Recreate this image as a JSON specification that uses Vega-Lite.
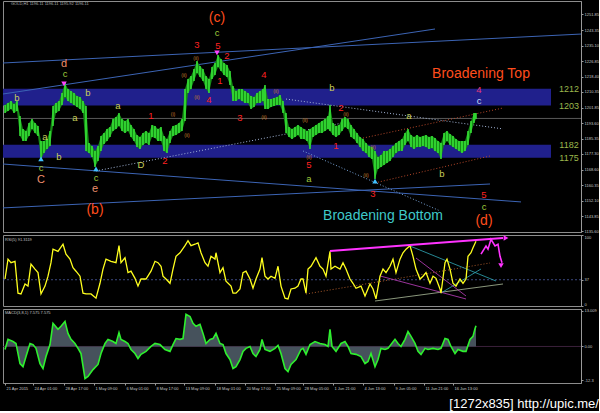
{
  "$schema": "https://vega.github.io/schema/vega-lite/v6.json",
  "background": "#000000",
  "padding": 0,
  "spacing": 3,
  "bounds": "flush",
  "title": {"text": "[1272x835] http://upic.me/", "orient": "bottom", "anchor": "end", "color": "#ffffff", "fontSize": 13, "font": "Liberation Sans", "fontWeight": "normal", "offset": -8},
  "config": {
    "view": {"stroke": "#8c8c8c", "strokeWidth": 1},
    "axis": {"labelColor": "#c8c8c8", "labelFont": "Liberation Sans", "labelFontSize": 4, "domainColor": "#9a9a9a", "tickColor": "#9a9a9a", "tickSize": 2, "labelPadding": 1, "grid": false},
    "text": {"font": "Liberation Sans"}
  },
  "datasets": {
    "price": [
      {"b":2,"p":1203.3,"l":1199.0},{"b":5,"p":1204.4,"l":1200.1},{"b":8,"p":1205.5,"l":1201.2},{"b":11,"p":1203.9,"l":1199.0},
      {"b":14,"p":1205.5,"l":1200.1},{"b":17,"p":1197.4,"l":1186.7},{"b":20,"p":1190.5,"l":1184.0},{"b":23,"p":1189.4,"l":1184.0},
      {"b":26,"p":1193.7,"l":1186.7},{"b":29,"p":1195.8,"l":1190.5},{"b":32,"p":1193.7,"l":1188.3},{"b":35,"p":1192.1,"l":1186.7},
      {"b":38,"p":1184.0,"l":1174.4},{"b":41,"p":1184.0,"l":1177.6},{"b":44,"p":1185.1,"l":1179.8},{"b":47,"p":1189.4,"l":1181.4},
      {"b":50,"p":1202.8,"l":1192.1},{"b":53,"p":1204.4,"l":1199.0},{"b":56,"p":1205.5,"l":1200.1},{"b":59,"p":1209.7,"l":1203.3},
      {"b":62,"p":1215.1,"l":1207.6},{"b":65,"p":1211.9,"l":1205.5},{"b":68,"p":1210.8,"l":1204.4},{"b":71,"p":1209.7,"l":1203.3},
      {"b":74,"p":1208.1,"l":1202.2},{"b":77,"p":1207.6,"l":1201.2},{"b":80,"p":1205.5,"l":1199.0},{"b":83,"p":1202.8,"l":1178.7},
      {"b":86,"p":1183.0,"l":1177.6},{"b":89,"p":1181.4,"l":1175.5},{"b":92,"p":1178.7,"l":1170.1},{"b":95,"p":1181.4,"l":1173.3},
      {"b":98,"p":1186.7,"l":1178.7},{"b":101,"p":1188.3,"l":1182.4},{"b":104,"p":1190.5,"l":1184.0},{"b":107,"p":1191.5,"l":1186.2},
      {"b":110,"p":1195.8,"l":1189.4},{"b":113,"p":1196.9,"l":1190.5},{"b":116,"p":1199.0,"l":1192.1},{"b":119,"p":1195.8,"l":1189.4},
      {"b":122,"p":1194.8,"l":1188.3},{"b":125,"p":1195.8,"l":1189.4},{"b":128,"p":1192.6,"l":1186.2},{"b":131,"p":1190.5,"l":1184.0},
      {"b":134,"p":1187.3,"l":1180.8},{"b":137,"p":1186.2,"l":1179.8},{"b":140,"p":1188.3,"l":1181.9},{"b":143,"p":1189.4,"l":1183.0},
      {"b":146,"p":1188.3,"l":1181.9},{"b":149,"p":1192.6,"l":1186.2},{"b":152,"p":1192.1,"l":1185.7},{"b":155,"p":1190.5,"l":1184.0},
      {"b":158,"p":1191.5,"l":1184.0},{"b":161,"p":1186.7,"l":1178.7},{"b":164,"p":1185.1,"l":1177.6},{"b":167,"p":1189.4,"l":1183.0},
      {"b":170,"p":1192.1,"l":1186.7},{"b":173,"p":1192.6,"l":1187.3},{"b":176,"p":1193.7,"l":1188.3},{"b":179,"p":1195.8,"l":1189.4},
      {"b":182,"p":1211.9,"l":1194.8},{"b":185,"p":1217.2,"l":1209.7},{"b":188,"p":1218.8,"l":1211.9},{"b":191,"p":1222.6,"l":1216.2},
      {"b":194,"p":1226.9,"l":1220.5},{"b":197,"p":1224.2,"l":1218.3},{"b":200,"p":1222.6,"l":1216.2},{"b":203,"p":1218.8,"l":1211.9},
      {"b":206,"p":1217.2,"l":1209.7},{"b":209,"p":1223.7,"l":1217.2},{"b":212,"p":1225.8,"l":1219.4},{"b":215,"p":1230.1,"l":1223.7},
      {"b":218,"p":1227.9,"l":1221.5},{"b":221,"p":1225.8,"l":1219.4},{"b":224,"p":1224.7,"l":1218.3},{"b":227,"p":1221.5,"l":1214.0},
      {"b":230,"p":1213.5,"l":1205.5},{"b":233,"p":1210.8,"l":1205.5},{"b":236,"p":1211.9,"l":1206.5},{"b":239,"p":1211.9,"l":1205.5},
      {"b":242,"p":1210.8,"l":1204.4},{"b":245,"p":1209.7,"l":1204.4},{"b":248,"p":1208.1,"l":1201.2},{"b":251,"p":1207.6,"l":1202.2},
      {"b":254,"p":1209.7,"l":1204.4},{"b":257,"p":1210.8,"l":1204.4},{"b":260,"p":1211.9,"l":1205.5},{"b":262,"p":1214.0,"l":1201.2},
      {"b":265,"p":1206.5,"l":1201.2},{"b":268,"p":1206.5,"l":1202.2},{"b":271,"p":1207.1,"l":1202.8},{"b":274,"p":1207.6,"l":1203.3},
      {"b":277,"p":1208.7,"l":1203.3},{"b":280,"p":1205.5,"l":1199.0},{"b":283,"p":1199.0,"l":1188.3},{"b":286,"p":1191.5,"l":1186.2},
      {"b":289,"p":1190.5,"l":1185.1},{"b":292,"p":1191.5,"l":1186.2},{"b":295,"p":1192.6,"l":1187.3},{"b":298,"p":1191.5,"l":1185.1},
      {"b":301,"p":1190.5,"l":1185.1},{"b":304,"p":1189.4,"l":1184.0},{"b":307,"p":1190.5,"l":1179.8},{"b":310,"p":1191.5,"l":1186.2},
      {"b":313,"p":1192.6,"l":1187.3},{"b":316,"p":1193.7,"l":1188.3},{"b":319,"p":1194.8,"l":1188.3},{"b":322,"p":1195.8,"l":1189.4},
      {"b":325,"p":1197.4,"l":1190.5},{"b":327,"p":1203.3,"l":1189.4},{"b":330,"p":1193.7,"l":1187.3},{"b":333,"p":1192.1,"l":1186.2},
      {"b":336,"p":1192.6,"l":1187.3},{"b":339,"p":1195.8,"l":1189.4},{"b":342,"p":1196.9,"l":1191.5},{"b":345,"p":1195.8,"l":1190.5},
      {"b":348,"p":1192.6,"l":1186.2},{"b":351,"p":1190.5,"l":1185.1},{"b":354,"p":1188.3,"l":1183.0},{"b":357,"p":1186.2,"l":1180.8},
      {"b":360,"p":1185.1,"l":1178.7},{"b":363,"p":1183.0,"l":1177.6},{"b":366,"p":1181.4,"l":1175.5},{"b":369,"p":1180.8,"l":1174.4},
      {"b":372,"p":1178.7,"l":1163.7},{"b":375,"p":1175.5,"l":1169.1},{"b":378,"p":1176.5,"l":1170.1},{"b":381,"p":1178.7,"l":1171.2},
      {"b":384,"p":1178.7,"l":1172.3},{"b":387,"p":1179.8,"l":1173.3},{"b":390,"p":1181.4,"l":1175.5},{"b":393,"p":1183.0,"l":1177.6},
      {"b":396,"p":1184.0,"l":1178.7},{"b":399,"p":1185.1,"l":1178.7},{"b":402,"p":1188.3,"l":1181.9},{"b":405,"p":1190.5,"l":1184.0},
      {"b":408,"p":1187.3,"l":1180.8},{"b":411,"p":1186.2,"l":1179.8},{"b":414,"p":1187.3,"l":1180.8},{"b":417,"p":1186.2,"l":1180.8},
      {"b":420,"p":1186.7,"l":1181.4},{"b":423,"p":1187.3,"l":1180.8},{"b":426,"p":1186.2,"l":1179.8},{"b":429,"p":1186.7,"l":1180.3},
      {"b":432,"p":1185.7,"l":1178.7},{"b":435,"p":1184.0,"l":1177.6},{"b":438,"p":1183.0,"l":1174.4},{"b":441,"p":1188.3,"l":1181.9},
      {"b":444,"p":1189.4,"l":1184.0},{"b":447,"p":1187.8,"l":1181.9},{"b":450,"p":1186.7,"l":1180.8},{"b":453,"p":1185.1,"l":1179.8},
      {"b":456,"p":1184.0,"l":1178.7},{"b":459,"p":1184.0,"l":1177.6},{"b":462,"p":1184.0,"l":1178.7},{"b":465,"p":1189.4,"l":1181.9},
      {"b":468,"p":1194.8,"l":1188.3},{"b":471,"p":1199.0,"l":1193.7},{"b":473,"p":1199.0,"l":1195.8}
    ],
    "bands": [
      {"b":0,"b2":548,"p":1212,"l":1203},
      {"b":0,"b2":548,"p":1182,"l":1175}
    ],
    "bandEdges": [
      {"b":566,"p":1212},{"b":566,"p":1203},{"b":566,"p":1182},{"b":566,"p":1175}
    ],
    "lines": [
      {"id":"L1","k":"chan","b":0,"p":1225.8},{"id":"L1","k":"chan","b":578,"p":1241.3},
      {"id":"L2","k":"chan","b":0,"p":1209.2},{"id":"L2","k":"chan","b":432,"p":1244.0},
      {"id":"L3","k":"chan","b":0,"p":1171.7},{"id":"L3","k":"chan","b":518,"p":1151.4},
      {"id":"L4","k":"chan","b":0,"p":1148.2},{"id":"L4","k":"chan","b":487,"p":1161.0},
      {"id":"bid","k":"bid","b":0,"p":1196.11},{"id":"bid","k":"bid","b":578,"p":1196.11},
      {"id":"D1","k":"dotW","b":93,"p":1168.0},{"id":"D1","k":"dotW","b":340,"p":1193.7},
      {"id":"D2","k":"dotW","b":283,"p":1206.5},{"id":"D2","k":"dotW","b":500,"p":1190.5},
      {"id":"D3","k":"dotB","b":300,"p":1178.7},{"id":"D3","k":"dotB","b":437,"p":1146.6},
      {"id":"R1","k":"dotR","b":360,"p":1185.6},{"id":"R1","k":"dotR","b":500,"p":1201.7},
      {"id":"R2","k":"dotR","b":372,"p":1161.6},{"id":"R2","k":"dotR","b":487,"p":1176.0}
    ],
    "arrows": [
      {"b":214,"p":1231.2,"dir":"down"},{"b":61,"p":1214.6,"dir":"down"},
      {"b":38,"p":1174.4,"dir":"up"},{"b":93,"p":1169.1,"dir":"up"},{"b":372,"p":1162.6,"dir":"up"}
    ],
    "notes": [
      {"b":214,"p":1249.9,"t":"(c)","k":"deg"},
      {"b":92,"p":1147.1,"t":"(b)","k":"deg"},
      {"b":481,"p":1141.2,"t":"(d)","k":"deg"},
      {"b":478,"p":1219.9,"t":"Broadening Top","k":"top"},
      {"b":380,"p":1143.9,"t":"Broadening Bottom","k":"bot"},
      {"b":14,"p":1207.1,"t":"b","k":"abc"},
      {"b":62,"p":1219.9,"t":"c","k":"grn"},
      {"b":42,"p":1186.2,"t":"a","k":"abc"},
      {"b":72,"p":1196.4,"t":"a","k":"abc"},
      {"b":85,"p":1209.7,"t":"b","k":"abc"},
      {"b":38,"p":1169.6,"t":"c","k":"grn"},
      {"b":56,"p":1175.5,"t":"b","k":"abc"},
      {"b":93,"p":1164.2,"t":"c","k":"grn"},
      {"b":115,"p":1202.8,"t":"a","k":"abc"},
      {"b":138,"p":1171.2,"t":"D","k":"abc"},
      {"b":214,"p":1241.9,"t":"c","k":"grn"},
      {"b":329,"p":1212.4,"t":"b","k":"abc"},
      {"b":406,"p":1197.4,"t":"a","k":"abc"},
      {"b":306,"p":1163.7,"t":"a","k":"grn"},
      {"b":439,"p":1166.4,"t":"b","k":"abc"},
      {"b":481,"p":1148.8,"t":"c","k":"grn"},
      {"b":476,"p":1205.5,"t":"c","k":"lt"},
      {"b":61,"p":1225.3,"t":"d","k":"sal"},
      {"b":38,"p":1163.2,"t":"C","k":"sal"},
      {"b":92,"p":1158.4,"t":"e","k":"sal"},
      {"b":194,"p":1235.4,"t":"3","k":"num"},
      {"b":215,"p":1234.9,"t":"5","k":"num"},
      {"b":224,"p":1229.6,"t":"2","k":"num"},
      {"b":217,"p":1216.2,"t":"1","k":"num"},
      {"b":206,"p":1206.0,"t":"4","k":"num"},
      {"b":261,"p":1219.4,"t":"4","k":"num"},
      {"b":237,"p":1196.4,"t":"3","k":"num"},
      {"b":148,"p":1197.4,"t":"1","k":"num"},
      {"b":162,"p":1173.3,"t":"2","k":"num"},
      {"b":306,"p":1171.2,"t":"5","k":"num"},
      {"b":333,"p":1181.4,"t":"1","k":"num"},
      {"b":338,"p":1201.7,"t":"2","k":"num"},
      {"b":370,"p":1155.7,"t":"3","k":"num"},
      {"b":481,"p":1155.1,"t":"5","k":"num"},
      {"b":476,"p":1211.3,"t":"4","k":"pnk"},
      {"b":193,"p":1228.5,"t":"(ii)","k":"ii"},
      {"b":181,"p":1219.4,"t":"(ii)","k":"ii"},
      {"b":194,"p":1207.6,"t":"(ii)","k":"ii"},
      {"b":273,"p":1210.8,"t":"(ii)","k":"ii"},
      {"b":261,"p":1196.9,"t":"(ii)","k":"ii"},
      {"b":170,"p":1198.5,"t":"(i)","k":"ii"},
      {"b":184,"p":1187.3,"t":"(ii)","k":"ii"},
      {"b":306,"p":1175.5,"t":"(ii)","k":"ii"},
      {"b":302,"p":1195.3,"t":"(ii)","k":"ii"},
      {"b":343,"p":1198.5,"t":"(ii)","k":"ii"},
      {"b":363,"p":1165.8,"t":"(ii)","k":"ii"},
      {"b":370,"p":1180.8,"t":"(ii)","k":"ii"}
    ],
    "info": [
      {"b":8,"p":1257.3,"t":"GOLD,H1  1196.11 1196.11 1195.92 1196.11"}
    ],
    "rsi": [
      {"b":2,"v":38},{"b":5,"v":66},{"b":8,"v":61},{"b":12,"v":63},{"b":15,"v":18},{"b":18,"v":17},{"b":22,"v":31},{"b":25,"v":28},
      {"b":28,"v":59},{"b":32,"v":52},{"b":35,"v":47},{"b":38,"v":17},{"b":42,"v":28},{"b":45,"v":42},{"b":48,"v":61},{"b":50,"v":80},
      {"b":55,"v":77},{"b":60,"v":87},{"b":63,"v":73},{"b":67,"v":66},{"b":70,"v":54},{"b":73,"v":49},{"b":77,"v":42},{"b":80,"v":18},
      {"b":83,"v":17},{"b":88,"v":17},{"b":93,"v":11},{"b":97,"v":32},{"b":100,"v":52},{"b":103,"v":66},{"b":108,"v":63},{"b":113,"v":61},
      {"b":116,"v":85},{"b":118,"v":61},{"b":122,"v":68},{"b":125,"v":47},{"b":128,"v":49},{"b":132,"v":39},{"b":135,"v":28},{"b":138,"v":38},
      {"b":143,"v":38},{"b":148,"v":49},{"b":152,"v":63},{"b":155,"v":61},{"b":158,"v":56},{"b":160,"v":42},{"b":163,"v":38},{"b":167,"v":32},
      {"b":170,"v":52},{"b":173,"v":70},{"b":177,"v":75},{"b":182,"v":85},{"b":185,"v":92},{"b":188,"v":85},{"b":192,"v":87},{"b":195,"v":89},
      {"b":198,"v":75},{"b":202,"v":61},{"b":205,"v":56},{"b":208,"v":70},{"b":212,"v":66},{"b":213,"v":75},{"b":217,"v":47},{"b":220,"v":54},
      {"b":223,"v":35},{"b":228,"v":28},{"b":230,"v":18},{"b":233,"v":18},{"b":237,"v":24},{"b":240,"v":47},{"b":243,"v":49},{"b":247,"v":38},
      {"b":250,"v":25},{"b":253,"v":38},{"b":257,"v":52},{"b":259,"v":68},{"b":262,"v":42},{"b":265,"v":38},{"b":268,"v":42},{"b":272,"v":39},
      {"b":275,"v":56},{"b":278,"v":28},{"b":282,"v":11},{"b":285,"v":10},{"b":288,"v":24},{"b":292,"v":25},{"b":295,"v":28},{"b":298,"v":38},
      {"b":300,"v":38},{"b":303,"v":18},{"b":305,"v":52},{"b":308,"v":56},{"b":313,"v":68},{"b":317,"v":56},{"b":320,"v":52},{"b":323,"v":42},
      {"b":327,"v":77},{"b":328,"v":52},{"b":332,"v":56},{"b":337,"v":52},{"b":340,"v":61},{"b":343,"v":52},{"b":347,"v":38},{"b":350,"v":32},
      {"b":353,"v":25},{"b":358,"v":28},{"b":362,"v":14},{"b":367,"v":31},{"b":370,"v":24},{"b":373,"v":10},{"b":377,"v":42},{"b":380,"v":52},
      {"b":383,"v":47},{"b":387,"v":56},{"b":390,"v":66},{"b":393,"v":47},{"b":397,"v":66},{"b":400,"v":75},{"b":403,"v":80},{"b":407,"v":85},
      {"b":410,"v":70},{"b":413,"v":52},{"b":417,"v":38},{"b":420,"v":42},{"b":423,"v":47},{"b":427,"v":32},{"b":430,"v":42},{"b":433,"v":39},
      {"b":437,"v":24},{"b":438,"v":18},{"b":442,"v":61},{"b":444,"v":66},{"b":447,"v":52},{"b":450,"v":32},{"b":453,"v":28},{"b":457,"v":38},
      {"b":460,"v":32},{"b":463,"v":38},{"b":465,"v":70},{"b":468,"v":75},{"b":470,"v":82},{"b":473,"v":91.3}
    ],
    "rsiLines": [
      {"id":"lvl","k":"lvl","b":0,"v":37},{"id":"lvl","k":"lvl","b":578,"v":37},
      {"id":"M1","k":"mag","b":327,"v":77.5},{"id":"M1","k":"mag","b":500,"v":95.8},
      {"id":"M2","k":"magS","b":478,"v":73},{"id":"M2","k":"magS","b":483,"v":84.5},{"id":"M2","k":"magS","b":485,"v":80},
      {"id":"M2","k":"magS","b":488,"v":94},{"id":"M2","k":"magS","b":492,"v":84.5},{"id":"M2","k":"magS","b":495,"v":87},
      {"id":"M2","k":"magS","b":497,"v":70},{"id":"M2","k":"magS","b":499,"v":61},
      {"id":"C1","k":"cyan","b":407,"v":84.5},{"id":"C1","k":"cyan","b":493,"v":35.2},
      {"id":"C2","k":"cyan","b":438,"v":18.3},{"id":"C2","k":"cyan","b":478,"v":52.1},
      {"id":"P1","k":"magT","b":413,"v":67.6},{"id":"P1","k":"magT","b":463,"v":14.1},
      {"id":"P2","k":"magT","b":377,"v":42.3},{"id":"P2","k":"magT","b":463,"v":9.9},
      {"id":"G1","k":"grn","b":372,"v":7.0},{"id":"G1","k":"grn","b":500,"v":31.0},
      {"id":"O1","k":"ora","b":303,"v":16.9},{"id":"O1","k":"ora","b":487,"v":60.6}
    ],
    "rsiHeads": [
      {"b":503,"v":95.8,"dir":"right"},{"b":498,"v":57,"dir":"down"}
    ],
    "macd": [
      {"b":2,"m":-1.1},{"b":5,"m":2.6},{"b":10,"m":1.8},{"b":13,"m":1.1},{"b":17,"m":-6.3},{"b":20,"m":-7.4},{"b":23,"m":-3.7},{"b":27,"m":1.1},
      {"b":30,"m":0.7},{"b":33,"m":-0.7},{"b":37,"m":-6.3},{"b":40,"m":-8.1},{"b":43,"m":-3.7},{"b":47,"m":0.7},{"b":50,"m":8.5},{"b":55,"m":6.3},
      {"b":58,"m":7.4},{"b":62,"m":9.2},{"b":65,"m":4.8},{"b":68,"m":2.6},{"b":72,"m":1.1},{"b":75,"m":-0.7},{"b":78,"m":-2.6},{"b":82,"m":-11.8},
      {"b":85,"m":-11.0},{"b":90,"m":-8.5},{"b":95,"m":-6.6},{"b":98,"m":-2.6},{"b":102,"m":1.1},{"b":105,"m":2.6},{"b":110,"m":1.8},{"b":113,"m":1.1},
      {"b":116,"m":5.1},{"b":118,"m":2.6},{"b":122,"m":1.8},{"b":125,"m":1.1},{"b":128,"m":-1.1},{"b":132,"m":-2.6},{"b":135,"m":-4.4},{"b":138,"m":-2.9},
      {"b":143,"m":-1.8},{"b":148,"m":0},{"b":152,"m":1.1},{"b":157,"m":0.7},{"b":162,"m":-1.1},{"b":167,"m":-1.8},{"b":170,"m":0.7},{"b":173,"m":2.9},
      {"b":177,"m":2.6},{"b":180,"m":2.9},{"b":183,"m":11.8},{"b":187,"m":11.0},{"b":190,"m":8.5},{"b":193,"m":7.4},{"b":197,"m":8.1},{"b":200,"m":4.8},
      {"b":203,"m":1.1},{"b":207,"m":2.6},{"b":210,"m":2.9},{"b":213,"m":4.8},{"b":217,"m":1.1},{"b":220,"m":0.7},{"b":223,"m":-2.6},{"b":227,"m":-4.8},
      {"b":230,"m":-8.1},{"b":233,"m":-7.4},{"b":237,"m":-4.8},{"b":240,"m":-1.8},{"b":243,"m":-0.7},{"b":247,"m":0},{"b":250,"m":-2.6},{"b":253,"m":-3.7},
      {"b":257,"m":-1.1},{"b":259,"m":2.6},{"b":262,"m":-1.1},{"b":267,"m":-1.8},{"b":272,"m":-0.7},{"b":275,"m":0.4},{"b":278,"m":-2.6},{"b":282,"m":-8.1},
      {"b":285,"m":-9.2},{"b":288,"m":-6.6},{"b":293,"m":-4.8},{"b":298,"m":-1.1},{"b":300,"m":-0.7},{"b":303,"m":-2.9},{"b":307,"m":0.7},{"b":312,"m":1.8},
      {"b":317,"m":1.1},{"b":322,"m":0.7},{"b":325,"m":0},{"b":327,"m":6.3},{"b":329,"m":0},{"b":333,"m":-1.8},{"b":338,"m":1.1},{"b":342,"m":1.8},
      {"b":345,"m":0},{"b":348,"m":-2.6},{"b":353,"m":-2.9},{"b":358,"m":-3.7},{"b":362,"m":-6.3},{"b":365,"m":-5.5},{"b":368,"m":-2.6},{"b":372,"m":-7.4},
      {"b":375,"m":-4.8},{"b":378,"m":-0.7},{"b":382,"m":-1.1},{"b":385,"m":-0.7},{"b":388,"m":0.7},{"b":392,"m":2.6},{"b":395,"m":1.1},{"b":398,"m":0},
      {"b":402,"m":2.6},{"b":405,"m":5.5},{"b":408,"m":3.7},{"b":412,"m":1.1},{"b":415,"m":-1.8},{"b":418,"m":-2.9},{"b":422,"m":-0.7},{"b":425,"m":-1.1},
      {"b":430,"m":-0.7},{"b":435,"m":-1.1},{"b":438,"m":-0.7},{"b":442,"m":2.9},{"b":445,"m":2.6},{"b":448,"m":0},{"b":452,"m":-2.6},{"b":455,"m":-1.1},
      {"b":460,"m":-1.8},{"b":463,"m":-1.8},{"b":467,"m":2.6},{"b":470,"m":3.7},{"b":472,"m":6.5},{"b":473,"m":7.575}
    ],
    "macdZero": [
      {"b":0,"m":0},{"b":578,"m":0}
    ]
  },
  "vconcat": [
    {
      "width": 578,
      "height": 231,
      "encoding": {
        "x": {"field": "b", "type": "quantitative", "scale": {"domain": [0, 578], "nice": false, "zero": false}, "axis": null},
        "y": {"field": "p", "type": "quantitative", "title": null, "scale": {"domain": [1135.3, 1259], "nice": false, "zero": false},
              "axis": {"orient": "right", "values": [1251.85, 1243.35, 1235.10, 1226.85, 1218.40, 1210.35, 1201.85, 1193.60, 1185.35, 1177.30, 1168.60, 1160.35, 1152.10, 1143.85, 1135.60], "format": ".2f", "labelOverlap": false}}
      },
      "layer": [
        {"data": {"name": "bands"}, "mark": {"type": "rect", "color": "#20208c"}, "encoding": {"x2": {"field": "b2"}, "y2": {"field": "l"}}},
        {"data": {"name": "bandEdges"}, "mark": {"type": "text", "color": "#9cb84c", "fontSize": 9, "align": "center", "baseline": "middle"}, "encoding": {"text": {"field": "p", "type": "quantitative", "format": "d"}}},
        {"data": {"name": "lines"}, "transform": [{"filter": "datum.k == 'chan'"}], "mark": {"type": "line", "color": "#3c64b4", "strokeWidth": 1}, "encoding": {"detail": {"field": "id"}}},
        {"data": {"name": "lines"}, "transform": [{"filter": "datum.k == 'bid'"}], "mark": {"type": "line", "color": "#707070", "strokeWidth": 0.8}, "encoding": {"detail": {"field": "id"}}},
        {"data": {"name": "lines"}, "transform": [{"filter": "datum.k == 'dotW'"}], "mark": {"type": "line", "color": "#a4b6d8", "strokeWidth": 1, "strokeDash": [1, 2]}, "encoding": {"detail": {"field": "id"}}},
        {"data": {"name": "lines"}, "transform": [{"filter": "datum.k == 'dotB'"}], "mark": {"type": "line", "color": "#78a4d8", "strokeWidth": 1, "strokeDash": [1, 2]}, "encoding": {"detail": {"field": "id"}}},
        {"data": {"name": "lines"}, "transform": [{"filter": "datum.k == 'dotR'"}], "mark": {"type": "line", "color": "#b8482a", "strokeWidth": 1, "strokeDash": [1, 2]}, "encoding": {"detail": {"field": "id"}}},
        {"data": {"name": "price"}, "mark": {"type": "area", "color": "#168c16"}, "encoding": {"y2": {"field": "l"}}},
        {"data": {"name": "price"}, "mark": {"type": "rule", "color": "#3cf03c", "strokeWidth": 1.4}, "encoding": {"y2": {"field": "l"}}},
        {"data": {"name": "arrows"}, "transform": [{"filter": "datum.dir == 'down'"}], "mark": {"type": "point", "filled": true, "size": 30, "opacity": 1, "shape": "triangle-down", "color": "#ff40ff"}},
        {"data": {"name": "arrows"}, "transform": [{"filter": "datum.dir == 'up'"}], "mark": {"type": "point", "filled": true, "size": 30, "opacity": 1, "shape": "triangle-up", "color": "#40c0ff"}},
        {"data": {"name": "notes"}, "transform": [{"filter": "datum.k == 'deg' || datum.k == 'top' || datum.k == 'bot'"}],
         "mark": {"type": "text", "fontSize": 14, "align": "center", "baseline": "middle"},
         "encoding": {"text": {"field": "t"}, "color": {"field": "k", "type": "nominal", "legend": null,
           "scale": {"domain": ["deg", "top", "bot", "abc", "grn", "sal", "num", "pnk", "lt", "ii"], "range": ["#ff4d1c", "#ff4d1c", "#3fc9c9", "#c9cf5a", "#9fc93c", "#ee8f6c", "#ff2222", "#e83a78", "#c6dcf2", "#c8782c"]}}}},
        {"data": {"name": "notes"}, "transform": [{"filter": "datum.k == 'sal'"}],
         "mark": {"type": "text", "fontSize": 11, "align": "center", "baseline": "middle"},
         "encoding": {"text": {"field": "t"}, "color": {"field": "k", "type": "nominal", "legend": null,
           "scale": {"domain": ["deg", "top", "bot", "abc", "grn", "sal", "num", "pnk", "lt", "ii"], "range": ["#ff4d1c", "#ff4d1c", "#3fc9c9", "#c9cf5a", "#9fc93c", "#ee8f6c", "#ff2222", "#e83a78", "#c6dcf2", "#c8782c"]}}}},
        {"data": {"name": "notes"}, "transform": [{"filter": "indexof(['abc','grn','num','pnk','lt'], datum.k) >= 0"}],
         "mark": {"type": "text", "fontSize": 9.5, "align": "center", "baseline": "middle"},
         "encoding": {"text": {"field": "t"}, "color": {"field": "k", "type": "nominal", "legend": null,
           "scale": {"domain": ["deg", "top", "bot", "abc", "grn", "sal", "num", "pnk", "lt", "ii"], "range": ["#ff4d1c", "#ff4d1c", "#3fc9c9", "#c9cf5a", "#9fc93c", "#ee8f6c", "#ff2222", "#e83a78", "#c6dcf2", "#c8782c"]}}}},
        {"data": {"name": "notes"}, "transform": [{"filter": "datum.k == 'ii'"}],
         "mark": {"type": "text", "fontSize": 5, "align": "center", "baseline": "middle"},
         "encoding": {"text": {"field": "t"}, "color": {"field": "k", "type": "nominal", "legend": null,
           "scale": {"domain": ["deg", "top", "bot", "abc", "grn", "sal", "num", "pnk", "lt", "ii"], "range": ["#ff4d1c", "#ff4d1c", "#3fc9c9", "#c9cf5a", "#9fc93c", "#ee8f6c", "#ff2222", "#e83a78", "#c6dcf2", "#c8782c"]}}}},
        {"data": {"name": "info"}, "mark": {"type": "text", "fontSize": 4, "align": "left", "baseline": "middle", "color": "#b4b4b4"}, "encoding": {"text": {"field": "t"}}}
      ]
    },
    {
      "width": 578,
      "height": 71,
      "encoding": {
        "x": {"field": "b", "type": "quantitative", "scale": {"domain": [0, 578], "nice": false, "zero": false}, "axis": null},
        "y": {"field": "v", "type": "quantitative", "title": null, "scale": {"domain": [0, 100], "nice": false},
              "axis": {"orient": "right", "values": [0, 37, 100], "labelFlush": true, "labelOverlap": false}}
      },
      "layer": [
        {"data": {"name": "rsiLines"}, "transform": [{"filter": "datum.k == 'lvl'"}], "mark": {"type": "line", "color": "#4b5aa0", "strokeWidth": 0.8, "strokeDash": [2, 2]}, "encoding": {"detail": {"field": "id"}}},
        {"data": {"name": "rsiLines"}, "transform": [{"filter": "datum.k == 'ora'"}], "mark": {"type": "line", "color": "#a8582a", "strokeWidth": 1, "strokeDash": [1, 2]}, "encoding": {"detail": {"field": "id"}}},
        {"data": {"name": "rsiLines"}, "transform": [{"filter": "datum.k == 'grn'"}], "mark": {"type": "line", "color": "#9aa88a", "strokeWidth": 0.9}, "encoding": {"detail": {"field": "id"}}},
        {"data": {"name": "rsiLines"}, "transform": [{"filter": "datum.k == 'cyan'"}], "mark": {"type": "line", "color": "#30a8b8", "strokeWidth": 0.8}, "encoding": {"detail": {"field": "id"}}},
        {"data": {"name": "rsiLines"}, "transform": [{"filter": "datum.k == 'magT'"}], "mark": {"type": "line", "color": "#c040c0", "strokeWidth": 0.8}, "encoding": {"detail": {"field": "id"}}},
        {"data": {"name": "rsi"}, "mark": {"type": "line", "color": "#ffff1e", "strokeWidth": 1.3}},
        {"data": {"name": "rsiLines"}, "transform": [{"filter": "datum.k == 'mag'"}], "mark": {"type": "line", "color": "#ff33ff", "strokeWidth": 2}, "encoding": {"detail": {"field": "id"}}},
        {"data": {"name": "rsiLines"}, "transform": [{"filter": "datum.k == 'magS'"}], "mark": {"type": "line", "color": "#ff33ff", "strokeWidth": 1.6}, "encoding": {"detail": {"field": "id"}}},
        {"data": {"name": "rsiHeads"}, "transform": [{"filter": "datum.dir == 'right'"}], "mark": {"type": "point", "filled": true, "size": 30, "color": "#ff33ff", "opacity": 1, "shape": "triangle-right"}},
        {"data": {"name": "rsiHeads"}, "transform": [{"filter": "datum.dir == 'down'"}], "mark": {"type": "point", "filled": true, "size": 30, "color": "#ff33ff", "opacity": 1, "shape": "triangle-down"}},
        {"data": {"values": [{"b": 2, "v": 93, "t": "RSI(5) 91.3119"}]}, "mark": {"type": "text", "fontSize": 4, "align": "left", "baseline": "middle", "color": "#c0c0c0"}, "encoding": {"text": {"field": "t"}}}
      ]
    },
    {
      "width": 578,
      "height": 74,
      "encoding": {
        "x": {"field": "b", "type": "quantitative", "scale": {"domain": [0, 578], "nice": false, "zero": false},
              "axis": {"values": [2, 30, 61, 91, 122, 152, 181, 212, 242, 272, 300, 330, 360, 391, 421, 450], "labelAlign": "left", "labelOffset": 1, "labelOverlap": false, "labelFlush": false, "domain": false,
                       "labelExpr": "['21 Apr 2015','24 Apr 01:00','28 Apr 17:00','1 May 09:00','6 May 01:00','8 May 17:00','13 May 09:00','18 May 01:00','20 May 17:00','25 May 09:00','28 May 05:00','1 Jun 21:00','4 Jun 13:00','9 Jun 05:00','11 Jun 21:00','16 Jun 13:00'][indexof([2,30,61,91,122,152,181,212,242,272,300,330,360,391,421,450], datum.value)]"}},
        "y": {"field": "m", "type": "quantitative", "title": null, "scale": {"domain": [-13.4, 13.74], "nice": false, "zero": false},
              "axis": {"orient": "right", "values": [-12.3, 0, 13.009], "labelOverlap": false,
                       "labelExpr": "datum.value > 1 ? '13.009' : (datum.value < -1 ? '-12.3' : '0.00')"}}
      },
      "layer": [
        {"data": {"name": "macdZero"}, "mark": {"type": "line", "color": "#4a2a4a", "strokeWidth": 0.8}},
        {"data": {"name": "macd"}, "mark": {"type": "area", "color": "#46525c"}, "encoding": {"y2": {"datum": 0}}},
        {"data": {"name": "macd"}, "mark": {"type": "line", "color": "#2ef02e", "strokeWidth": 1.6}},
        {"data": {"values": [{"b": 2, "m": 12.4, "t": "MACD(3,8,1) 7.575 7.575"}]}, "mark": {"type": "text", "fontSize": 4, "align": "left", "baseline": "middle", "color": "#c0c0c0"}, "encoding": {"text": {"field": "t"}}}
      ]
    }
  ]
}
